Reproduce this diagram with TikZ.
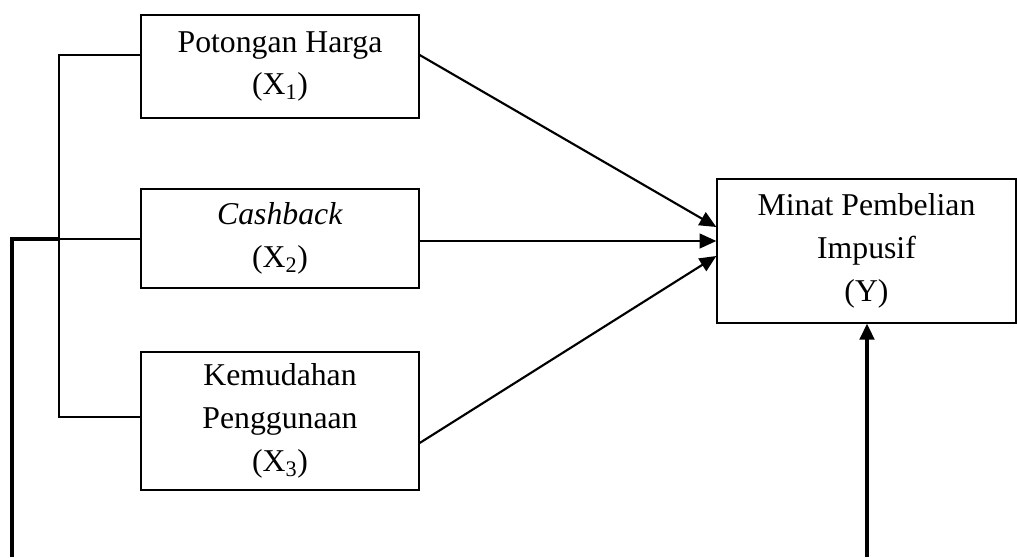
\documentclass[tikz,border=0pt]{standalone}
\usepackage{fontspec}
\setmainfont{Liberation Serif}
\usetikzlibrary{arrows.meta}
\begin{document}
\begin{tikzpicture}[x=0.75pt,y=-0.75pt,
  varbox/.style={draw,line width=1pt,minimum width=208.5pt,align=center,inner sep=0pt,
    font=\fontsize{23.8}{32}\selectfont},
  thinline/.style={line width=1.1pt},
  thickline/.style={line width=2.3pt},
  arrowline/.style={line width=1.6pt,-{Triangle[length=12.5pt,width=11pt]}},
  uparrow/.style={line width=2.3pt,-{Triangle[length=12pt,width=11pt]}}]
\useasboundingbox (0,0) rectangle (1017,557);
\node[varbox,minimum height=77.25pt] (x1) at (280,66.5) {\raisebox{-3pt}{\parbox{200pt}{\centering Potongan Harga\\(X\textsubscript{1})}}};
\node[varbox,minimum height=74.25pt] (x2) at (280,238.5) {\raisebox{-2pt}{\parbox{200pt}{\centering\textit{Cashback}\\(X\textsubscript{2})}}};
\node[varbox,minimum height=103.5pt] (x3) at (280,421) {\raisebox{-2pt}{\parbox{200pt}{\centering Kemudahan\\Penggunaan\\(X\textsubscript{3})}}};
\node[varbox,minimum width=224.25pt,minimum height=108pt] (y) at (866.5,251) {\raisebox{-3pt}{\parbox{215pt}{\centering Minat Pembelian\\Impusif\\(Y)}}};
% junction coordinates
\coordinate (j1) at (59,55);
\coordinate (j2) at (59,239);
\coordinate (j3) at (59,417);
\coordinate (b1) at (12,557);
\coordinate (b2) at (12,239);
\coordinate (b3) at (867,557);
\coordinate (s3) at (0,443);
\coordinate (t1) at (0,227);
\coordinate (t2) at (0,241);
\coordinate (t3) at (0,256);
% left bracket
\draw[thinline] (x1.west |- j1) -- (j1) -- (j3) -- (x3.west |- j3);
\draw[thinline] (j2) -- (x2.west |- j2);
\draw[thickline] (b1) -- (b2) -- (j2);
% arrows to Y
\draw[arrowline] (x1.east |- j1) -- (y.west |- t1);
\draw[arrowline] (x2.east |- t2) -- (y.west |- t2);
\draw[arrowline] (x3.east |- s3) -- (y.west |- t3);
\draw[uparrow] (b3) -- (y.south -| b3);
\end{tikzpicture}
\end{document}
